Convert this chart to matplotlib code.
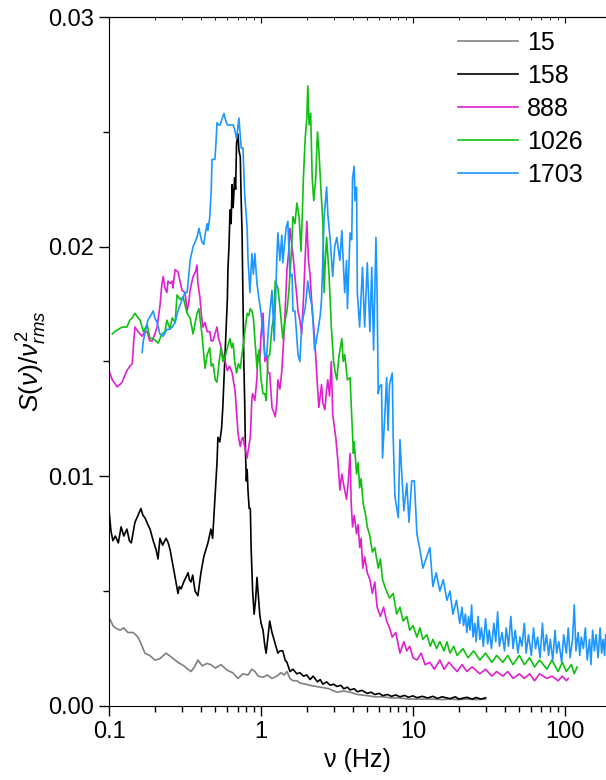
import numpy as np
import matplotlib
matplotlib.use('Agg')
import matplotlib.pyplot as plt
from matplotlib.ticker import MultipleLocator, FormatStrFormatter, LogLocator, NullFormatter

plt.rcParams['font.family'] = ['Liberation Sans', 'DejaVu Sans']
plt.rcParams['mathtext.fontset'] = 'custom'
plt.rcParams['mathtext.rm'] = 'Liberation Sans'
plt.rcParams['mathtext.it'] = 'Liberation Sans:italic'

# (frequency in Hz, S/v^2 in units of 1e-3)
s15 = [(0.101, 3.8), (0.106, 3.5), (0.11, 3.4), (0.118, 3.3), (0.125, 3.4), (0.133, 3.2), (0.144, 3.2),
       (0.155, 3.0), (0.165, 2.6), (0.172, 2.3), (0.185, 2.2), (0.2, 2.0), (0.215, 2.05), (0.237, 2.3),
       (0.26, 2.1), (0.284, 1.9), (0.31, 1.75), (0.33, 1.6), (0.346, 1.5), (0.365, 1.7), (0.384, 2.0),
       (0.41, 1.75), (0.44, 1.85), (0.468, 1.8), (0.5, 1.65), (0.545, 1.8), (0.6, 1.55), (0.65, 1.45),
       (0.705, 1.2), (0.76, 1.4), (0.82, 1.35), (0.87, 1.6), (0.91, 1.5), (0.96, 1.3), (1.03, 1.25),
       (1.1, 1.35), (1.18, 1.2), (1.27, 1.3), (1.35, 1.45), (1.42, 1.35), (1.48, 1.5), (1.55, 1.2),
       (1.62, 1.1), (1.72, 1.1), (1.8, 1.0), (1.95, 0.95), (2.1, 0.9), (2.3, 0.85), (2.55, 0.8),
       (2.8, 0.75), (3.15, 0.6), (3.5, 0.65), (3.85, 0.6), (4.3, 0.5), (5.0, 0.45), (5.6, 0.4),
       (6.3, 0.4), (7.2, 0.35), (8.2, 0.35), (9.3, 0.3), (10.6, 0.3), (12, 0.3), (13.5, 0.3),
       (15.5, 0.28), (17.5, 0.3), (20, 0.28), (22.6, 0.3), (26, 0.28), (30, 0.3)]

s158 = [(0.100, 8.5), (0.103, 7.6), (0.106, 7.2), (0.11, 7.4), (0.115, 7.1), (0.12, 7.8), (0.125, 7.4),
        (0.131, 7.7), (0.136, 7.2), (0.14, 7.1), (0.148, 8.0), (0.155, 8.3), (0.162, 8.6), (0.167, 8.3),
        (0.172, 8.2), (0.18, 7.9), (0.186, 7.7), (0.195, 7.2), (0.204, 6.8), (0.21, 6.4), (0.216, 7.3),
        (0.225, 7.0), (0.237, 7.3), (0.245, 7.1), (0.252, 6.8), (0.262, 6.2), (0.272, 5.6), (0.284, 4.9),
        (0.29, 5.2), (0.298, 5.1), (0.31, 5.4), (0.331, 5.8), (0.338, 5.5), (0.346, 5.4), (0.355, 5.7),
        (0.368, 5.0), (0.384, 4.8), (0.395, 5.4), (0.402, 5.8), (0.42, 6.5), (0.447, 7.1), (0.468, 7.7),
        (0.48, 7.3), (0.497, 9.0), (0.505, 9.8), (0.513, 10.6), (0.52, 11.7), (0.535, 11.5), (0.55, 12.1),
        (0.56, 13.0), (0.575, 14.8), (0.59, 16.5), (0.6, 17.7), (0.606, 19.1), (0.615, 20.0), (0.625, 21.6),
        (0.635, 21.0), (0.645, 22.7), (0.655, 21.7), (0.67, 23.0), (0.68, 22.5), (0.69, 24.5), (0.705, 24.9),
        (0.715, 24.2), (0.73, 23.9), (0.74, 22.0), (0.75, 20.6), (0.76, 17.7), (0.77, 15.0), (0.78, 13.3),
        (0.79, 11.0), (0.8, 9.8), (0.81, 10.3), (0.82, 9.4), (0.835, 8.6), (0.85, 8.6), (0.86, 6.9),
        (0.88, 5.0), (0.9, 4.0), (0.92, 4.6), (0.94, 5.6), (0.96, 4.8), (0.98, 4.0), (1.0, 3.6),
        (1.03, 3.3), (1.06, 2.6), (1.08, 2.3), (1.11, 3.0), (1.14, 3.7), (1.18, 3.2), (1.24, 2.7),
        (1.29, 2.3), (1.33, 2.4), (1.39, 2.4), (1.44, 2.0), (1.48, 1.9), (1.55, 1.5), (1.62, 1.6),
        (1.72, 1.4), (1.8, 1.45), (1.9, 1.3), (2.0, 1.35), (2.1, 1.15), (2.2, 1.3), (2.35, 1.05),
        (2.45, 1.15), (2.55, 0.95), (2.7, 1.05), (2.85, 0.9), (3.0, 0.95), (3.15, 0.85), (3.35, 0.9),
        (3.5, 0.75), (3.7, 0.82), (3.85, 0.7), (4.1, 0.75), (4.3, 0.62), (4.6, 0.68), (5.0, 0.55),
        (5.3, 0.6), (5.6, 0.5), (6.0, 0.55), (6.3, 0.45), (6.8, 0.5), (7.2, 0.42), (7.7, 0.48),
        (8.2, 0.4), (8.8, 0.46), (9.3, 0.38), (10.0, 0.44), (10.6, 0.36), (11.5, 0.42), (12.5, 0.35),
        (13.5, 0.42), (14.5, 0.33), (15.5, 0.4), (17.5, 0.32), (19, 0.4), (20, 0.3), (22.6, 0.38),
        (24.5, 0.3), (26, 0.37), (28, 0.3), (30, 0.36)]

s888 = [(0.100, 14.6), (0.105, 14.2), (0.113, 13.9), (0.118, 14.0), (0.122, 14.1), (0.127, 14.4), (0.131, 14.6),
        (0.137, 14.8), (0.142, 14.9), (0.145, 15.8), (0.148, 16.5), (0.155, 16.3), (0.165, 16.1), (0.172, 16.3),
        (0.178, 16.3), (0.185, 15.9), (0.192, 15.9), (0.2, 16.2), (0.207, 16.5), (0.212, 17.0), (0.216, 17.4),
        (0.222, 18.3), (0.227, 18.7), (0.233, 18.2), (0.24, 18.0), (0.244, 18.5), (0.252, 18.4), (0.26, 18.5),
        (0.263, 18.2), (0.272, 19.0), (0.284, 18.9), (0.293, 18.5), (0.302, 18.1), (0.316, 18.0), (0.326, 17.2),
        (0.335, 17.6), (0.341, 18.1), (0.357, 18.7), (0.37, 18.9), (0.379, 19.2), (0.384, 18.4), (0.396, 17.8),
        (0.405, 17.0), (0.415, 16.5), (0.428, 16.7), (0.442, 16.3), (0.46, 16.3), (0.47, 15.9), (0.483, 15.9),
        (0.497, 16.2), (0.513, 16.5), (0.525, 16.0), (0.537, 15.8), (0.55, 15.5), (0.56, 15.3), (0.58, 15.0),
        (0.6, 14.6), (0.62, 14.8), (0.645, 14.5), (0.66, 14.1), (0.675, 13.7), (0.69, 12.8), (0.705, 11.9),
        (0.72, 11.5), (0.73, 11.3), (0.745, 11.6), (0.76, 11.7), (0.785, 11.2), (0.81, 10.8), (0.83, 11.3),
        (0.85, 11.7), (0.87, 13.4), (0.88, 13.6), (0.91, 13.3), (0.94, 14.3), (0.95, 15.3), (0.98, 15.0),
        (1.0, 16.2), (1.03, 17.1), (1.06, 15.0), (1.09, 15.3), (1.11, 14.5), (1.14, 14.5), (1.18, 13.0),
        (1.24, 12.6), (1.27, 13.2), (1.29, 14.2), (1.33, 13.8), (1.37, 14.6), (1.41, 16.0), (1.44, 17.2),
        (1.48, 19.0), (1.52, 19.8), (1.55, 20.8), (1.6, 20.0), (1.63, 19.5), (1.67, 18.7), (1.72, 17.8),
        (1.75, 17.2), (1.8, 16.8), (1.85, 16.2), (1.9, 17.7), (1.95, 19.5), (2.0, 21.1), (2.05, 19.4),
        (2.1, 18.8), (2.17, 17.2), (2.22, 16.5), (2.25, 16.0), (2.3, 15.0), (2.33, 14.3), (2.4, 13.0),
        (2.45, 13.5), (2.5, 14.0), (2.55, 13.2), (2.63, 12.9), (2.7, 13.8), (2.75, 14.2), (2.82, 13.5),
        (2.9, 15.0), (2.96, 12.7), (3.03, 12.2), (3.1, 11.7), (3.2, 10.7), (3.3, 9.4), (3.4, 10.1),
        (3.5, 9.6), (3.65, 9.0), (3.75, 9.8), (3.85, 11.0), (3.92, 8.8), (4.0, 7.8), (4.1, 8.3),
        (4.25, 7.5), (4.35, 7.9), (4.46, 6.9), (4.55, 7.3), (4.67, 6.0), (4.8, 6.5), (5.0, 5.8),
        (5.2, 5.5), (5.4, 4.9), (5.6, 5.4), (5.8, 4.3), (6.1, 3.9), (6.4, 4.3), (6.7, 3.7), (7.0, 3.4),
        (7.3, 3.0), (7.7, 3.2), (8.2, 2.3), (8.7, 2.8), (9.1, 2.4), (9.5, 2.6), (10.0, 2.1), (10.6, 2.0),
        (11.3, 2.3), (12.0, 1.8), (12.9, 1.9), (13.8, 1.6), (15.0, 2.0), (16.0, 1.6), (17.2, 1.9),
        (18.3, 1.7), (19.5, 1.5), (21.0, 1.8), (22.6, 1.5), (24.5, 1.7), (27.5, 1.4), (30, 1.6),
        (33, 1.3), (35.5, 1.5), (39, 1.3), (42, 1.5), (45.5, 1.2), (50, 1.4), (54, 1.2), (58.5, 1.4),
        (63, 1.1), (68, 1.4), (76, 1.2), (82, 1.3), (90, 1.1), (96, 1.3), (102, 1.1), (105, 1.2)]

s1026 = [(0.105, 16.2), (0.109, 16.3), (0.115, 16.4), (0.122, 16.5), (0.131, 16.5), (0.137, 16.8), (0.142, 16.9),
         (0.148, 17.1), (0.155, 16.9), (0.16, 16.8), (0.168, 16.3), (0.178, 16.6), (0.186, 16.0), (0.195, 16.0),
         (0.21, 15.8), (0.223, 16.2), (0.233, 16.3), (0.24, 16.8), (0.252, 16.4), (0.26, 16.9), (0.272, 16.7),
         (0.28, 17.9), (0.293, 17.7), (0.307, 17.8), (0.326, 17.1), (0.341, 16.9), (0.357, 16.2), (0.379, 17.1),
         (0.39, 17.3), (0.408, 16.2), (0.428, 14.7), (0.442, 15.3), (0.46, 15.6), (0.47, 14.8), (0.483, 14.9),
         (0.5, 14.2), (0.513, 14.1), (0.53, 15.0), (0.545, 15.6), (0.56, 15.0), (0.58, 15.2), (0.6, 15.6),
         (0.625, 16.0), (0.64, 15.6), (0.655, 15.8), (0.67, 15.0), (0.69, 14.5), (0.71, 14.9), (0.73, 14.7),
         (0.745, 15.2), (0.76, 15.6), (0.785, 16.4), (0.81, 17.1), (0.83, 17.0), (0.85, 17.3), (0.87, 17.2),
         (0.89, 16.9), (0.91, 16.0), (0.94, 14.7), (0.97, 15.5), (1.0, 14.2), (1.03, 13.6), (1.06, 13.6),
         (1.08, 13.3), (1.11, 15.2), (1.14, 15.3), (1.18, 16.5), (1.21, 16.9), (1.24, 18.5), (1.29, 18.2),
         (1.33, 17.4), (1.39, 16.0), (1.44, 16.8), (1.48, 17.2), (1.52, 18.0), (1.55, 18.8), (1.59, 20.0),
         (1.62, 21.3), (1.67, 21.0), (1.72, 21.9), (1.78, 21.3), (1.83, 19.8), (1.87, 21.5), (1.9, 23.0),
         (1.95, 24.7), (2.0, 25.6), (2.03, 27.0), (2.07, 25.3), (2.12, 25.8), (2.17, 23.0), (2.22, 22.0),
         (2.29, 23.0), (2.35, 25.0), (2.4, 24.2), (2.5, 22.0), (2.55, 21.1), (2.6, 18.0), (2.65, 19.5),
         (2.7, 20.4), (2.8, 18.8), (2.9, 16.5), (3.0, 15.0), (3.08, 14.5), (3.15, 14.2), (3.25, 15.2),
         (3.4, 16.0), (3.47, 15.0), (3.55, 15.3), (3.7, 14.2), (3.85, 14.3), (3.95, 12.6), (4.05, 11.0),
         (4.1, 11.5), (4.25, 10.1), (4.35, 10.6), (4.45, 9.5), (4.55, 9.9), (4.7, 8.8), (4.85, 8.4),
         (5.0, 7.8), (5.2, 7.4), (5.4, 6.7), (5.6, 6.9), (5.9, 6.0), (6.1, 6.4), (6.3, 5.5), (6.6, 5.1),
         (7.0, 4.7), (7.4, 4.9), (7.8, 4.0), (8.2, 4.3), (8.6, 3.7), (9.1, 3.9), (9.5, 3.3), (10.0, 3.5),
         (10.6, 3.0), (11.1, 3.4), (11.6, 2.9), (12.3, 3.1), (13.0, 2.6), (13.5, 2.9), (14.3, 2.5),
         (15.0, 2.8), (16.0, 2.4), (16.7, 2.8), (17.5, 2.3), (18.5, 2.6), (19.5, 2.2), (21.3, 2.5),
         (23, 2.1), (25, 2.4), (27.5, 2.0), (30, 2.3), (33, 1.9), (35.5, 2.2), (39, 1.9), (42, 2.2),
         (45.5, 1.8), (50, 2.2), (54, 1.8), (58.5, 2.1), (63, 1.7), (68, 2.0), (76, 1.6), (82, 2.0),
         (90, 1.5), (96, 1.9), (102, 1.5), (110, 1.8), (115, 1.4), (120, 1.7)]

s1703 = [(0.165, 15.4), (0.168, 15.9), (0.172, 16.2), (0.18, 16.8), (0.188, 17.0), (0.195, 17.2), (0.2, 16.9),
         (0.207, 16.7), (0.216, 16.2), (0.227, 16.1), (0.24, 16.4), (0.25, 16.4), (0.26, 16.5), (0.272, 16.7),
         (0.284, 17.2), (0.302, 17.7), (0.316, 18.0), (0.326, 18.0), (0.335, 18.8), (0.341, 19.4), (0.357, 20.0),
         (0.379, 20.4), (0.39, 20.8), (0.408, 20.2), (0.42, 20.1), (0.43, 20.6), (0.442, 21.0), (0.447, 20.7),
         (0.46, 21.3), (0.47, 22.5), (0.476, 23.8), (0.49, 23.8), (0.497, 23.8), (0.505, 24.5), (0.513, 25.4),
         (0.525, 25.3), (0.537, 25.3), (0.55, 25.5), (0.57, 25.8), (0.585, 25.5), (0.6, 25.3), (0.625, 25.3),
         (0.655, 25.3), (0.67, 25.1), (0.69, 24.7), (0.715, 25.6), (0.74, 24.3), (0.76, 24.3), (0.78, 22.3),
         (0.81, 20.8), (0.82, 19.5), (0.845, 18.0), (0.87, 19.7), (0.89, 18.8), (0.91, 19.7), (0.94, 18.4),
         (0.97, 17.7), (1.0, 17.1), (1.03, 16.2), (1.06, 15.2), (1.09, 15.3), (1.12, 16.5), (1.14, 17.1),
         (1.18, 18.1), (1.22, 15.9), (1.27, 19.5), (1.29, 20.6), (1.33, 19.4), (1.37, 20.5), (1.39, 19.3),
         (1.46, 20.8), (1.5, 21.1), (1.55, 18.7), (1.6, 18.8), (1.62, 17.2), (1.67, 17.2), (1.72, 16.0),
         (1.75, 15.3), (1.8, 15.0), (1.85, 16.5), (1.9, 17.0), (1.95, 17.3), (2.03, 18.5), (2.1, 17.8),
         (2.17, 17.4), (2.25, 15.5), (2.35, 16.2), (2.45, 17.0), (2.5, 17.7), (2.6, 21.3), (2.7, 22.6),
         (2.75, 21.4), (2.85, 20.3), (2.96, 18.7), (3.05, 20.0), (3.15, 20.4), (3.3, 19.4), (3.4, 20.7),
         (3.55, 18.0), (3.65, 19.4), (3.7, 17.3), (3.85, 20.6), (3.95, 20.3), (4.0, 23.0), (4.1, 23.5),
         (4.15, 22.0), (4.25, 22.6), (4.3, 18.0), (4.45, 16.5), (4.65, 19.1), (4.8, 16.5), (5.0, 19.3),
         (5.2, 16.3), (5.35, 19.1), (5.5, 15.5), (5.7, 20.4), (5.8, 18.0), (5.9, 13.6), (6.0, 13.9),
         (6.2, 14.0), (6.3, 10.8), (6.5, 12.5), (6.7, 14.3), (6.85, 12.0), (7.0, 14.0), (7.3, 14.5),
         (7.4, 11.7), (7.6, 9.1), (8.0, 8.2), (8.2, 11.6), (8.4, 10.3), (8.7, 8.5), (9.1, 9.7), (9.4, 8.0),
         (9.8, 9.8), (10.2, 9.8), (10.6, 7.5), (11.1, 6.8), (11.6, 6.0), (12.3, 6.5), (12.9, 6.9),
         (13.5, 5.2), (14.2, 5.8), (15.0, 5.0), (15.8, 5.5), (16.7, 4.6), (17.5, 5.0), (18.3, 4.0),
         (19.3, 4.6), (20.3, 3.6), (21, 4.3), (21.5, 3.5), (22.1, 4.0), (22.6, 3.2), (23.2, 3.9),
         (23.7, 3.3), (24.3, 4.4), (24.8, 3.0), (25.5, 3.6), (26, 2.8), (26.8, 3.9), (27.5, 2.9),
         (28.2, 3.4), (29, 2.6), (30, 3.8), (31, 2.7), (31.7, 3.3), (32.8, 2.5), (34, 3.6), (35, 2.8),
         (36, 4.1), (37, 2.6), (38.5, 3.2), (40, 2.4), (41, 3.4), (42.5, 2.6), (44, 3.9), (45.5, 2.5),
         (47, 3.3), (49, 2.3), (50.5, 3.0), (52, 2.6), (54, 3.6), (55.5, 2.3), (57.5, 3.1), (60, 2.2),
         (62, 3.4), (64, 2.5), (66, 3.0), (68.5, 2.1), (71, 3.6), (73, 2.4), (75.5, 3.1), (78, 2.2),
         (80, 2.9), (83, 2.0), (86, 3.3), (88, 2.3), (91, 2.8), (95, 1.9), (98, 3.1), (102, 2.3),
         (105, 3.4), (108, 2.1), (112, 2.9), (115, 4.4), (118, 2.4), (122, 3.2), (125, 2.2), (128, 3.0),
         (132, 2.5), (136, 3.4), (140, 2.0), (145, 2.9), (148, 1.8), (152, 3.3), (156, 2.4), (160, 3.1),
         (165, 2.1), (170, 3.4), (174, 2.3), (178, 2.9), (182, 2.2), (185, 3.1)]

labels = ['15', '158', '888', '1026', '1703']
series = [s15, s158, s888, s1026, s1703]
colors = ['#808080', '#000000', '#E020D0', '#10C010', '#1E96FF']

fig = plt.figure(figsize=(6.06, 7.8), dpi=100)
ax = fig.add_axes([0.18, 0.0949, 0.82, 0.8833])

for pts, lab, col in zip(series, labels, colors):
    f, v = zip(*pts)
    ax.plot(f, np.array(v) * 1e-3, color=col, lw=1.2, label=lab)

ax.set_xscale('log')
ax.set_xlim(0.1, 186)
ax.set_ylim(0, 0.03)
ax.yaxis.set_major_locator(MultipleLocator(0.01))
ax.yaxis.set_minor_locator(MultipleLocator(0.005))
ax.yaxis.set_major_formatter(FormatStrFormatter('%.2f'))
ax.xaxis.set_minor_locator(LogLocator(base=10, subs=np.arange(2, 10), numticks=20))
ax.xaxis.set_minor_formatter(NullFormatter())
ax.set_xticks([0.1, 1, 10, 100])
ax.set_xticklabels(['0.1', '1', '10', '100'])

ax.tick_params(which='major', direction='out', length=7, width=1, labelsize=17)
ax.tick_params(which='minor', direction='out', length=4, width=1)
ax.spines['right'].set_visible(False)

top = ax.secondary_xaxis('top')
top.tick_params(which='major', direction='in', length=4, labeltop=False)
top.tick_params(which='minor', direction='in', length=2)

ax.set_xlabel('ν (Hz)', fontsize=18, labelpad=4)
ax.set_ylabel(r'$S(\nu)/\nu^{2}_{rms}$', fontsize=19)
ax.yaxis.set_label_coords(-0.12, 0.5)

ax.legend(loc='upper left', bbox_to_anchor=(0.702, 0.980), frameon=False, fontsize=18,
          handlelength=2.4, handletextpad=0.35, labelspacing=0.36, borderpad=0, borderaxespad=0)

fig.savefig('out.png', dpi=100)
